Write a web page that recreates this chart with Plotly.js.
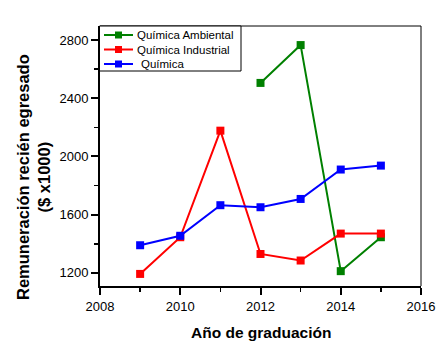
<!DOCTYPE html>
<html>
<head>
<meta charset="utf-8">
<script src="https://cdn.plot.ly/plotly-3.0.1.min.js"></script>
<style>html,body{margin:0;padding:0;background:#fff;}#chart{width:446px;height:357px;}</style>
</head>
<body>
<div id="chart"></div>
<script>
const yearsAmbiental = [2012, 2013, 2014, 2015];
const ambiental = [2505, 2765, 1212, 1445];
const years = [2009, 2010, 2011, 2012, 2013, 2014, 2015];
const industrial = [1193, 1445, 2177, 1330, 1285, 1470, 1470];
const quimica = [1390, 1455, 1665, 1651, 1708, 1910, 1937];
const seriesNames = ['Química Ambiental', 'Química Industrial', 'Química'];
const seriesColors = ['#008000', '#ff0000', '#0000ff'];

const mk = (x, y, i) => ({
  x: x, y: y, name: seriesNames[i], type: 'scatter', mode: 'lines+markers',
  line: {color: seriesColors[i], width: 2},
  marker: {symbol: 'square', size: 8, color: seriesColors[i]},
  showlegend: false
});

const data = [mk(yearsAmbiental, ambiental, 0), mk(years, industrial, 1), mk(years, quimica, 2)];

// plot area in pixels: left 100, right 421, top 26, bottom 286
const L = 100, R = 421, T = 26, B = 286;
const px = v => (v - L) / (R - L);
const py = v => (B - v) / (B - T);

const font = 'Liberation Sans, Arial, sans-serif';

// hand-built legend (box, symbols, labels)
const shapes = [
  {type: 'line', xref: 'paper', yref: 'paper', x0: 0, x1: 1, y0: 1, y1: 1, line: {color: '#000', width: 1}},
  {type: 'line', xref: 'paper', yref: 'paper', x0: 1, x1: 1, y0: 0, y1: 1, line: {color: '#000', width: 1}},
  {type: 'rect', xref: 'paper', yref: 'paper', layer: 'above', x0: px(99.5), x1: px(241), y0: py(71), y1: py(26),
    fillcolor: '#fff', line: {color: '#000', width: 1}}
];
const annotations = [
  {text: '<b>Año de graduación</b>', xref: 'paper', yref: 'paper', x: 0.5, y: py(332),
    xanchor: 'center', yanchor: 'middle', showarrow: false, font: {family: font, size: 15.5}},
  {text: '<b>Remuneración recién egresado<br>($ x1000)</b>', xref: 'paper', yref: 'paper',
    x: px(34), y: py(177), xanchor: 'center', yanchor: 'middle', textangle: -90, showarrow: false,
    font: {family: font, size: 16.5}}
];
const rowY = [35, 49.5, 64];
const textX = [135, 135, 139];
seriesNames.forEach((name, i) => {
  const yy = rowY[i];
  shapes.push({type: 'line', xref: 'paper', yref: 'paper', layer: 'above',
    x0: px(104), x1: px(133), y0: py(yy), y1: py(yy), line: {color: seriesColors[i], width: 2}});
  shapes.push({type: 'rect', xref: 'paper', yref: 'paper', layer: 'above',
    x0: px(115), x1: px(122), y0: py(yy + 3.5), y1: py(yy - 3.5),
    fillcolor: seriesColors[i], line: {width: 0}});
  annotations.push({text: name, xref: 'paper', yref: 'paper', x: px(textX[i]), y: py(yy),
    xanchor: 'left', yanchor: 'middle', showarrow: false, font: {family: font, size: 11.5, color: '#000'}});
});

const layout = {
  width: 446, height: 357,
  margin: {l: L, r: 446 - R, t: T, b: 357 - B},
  paper_bgcolor: '#fff', plot_bgcolor: '#fff',
  font: {family: font, size: 13, color: '#000'},
  showlegend: false,
  xaxis: {range: [2008, 2016], dtick: 2, tick0: 2008, showgrid: false, zeroline: false,
    showline: true, linecolor: '#000', linewidth: 2, ticks: 'outside', ticklen: 7, tickwidth: 2,
    tickcolor: '#000', tickfont: {family: font, size: 13},
    minor: {dtick: 1, ticks: 'outside', ticklen: 4, tickwidth: 1.5, tickcolor: '#000', showgrid: false}},
  yaxis: {range: [1110, 2896], dtick: 400, tick0: 1200, showgrid: false, zeroline: false,
    showline: true, linecolor: '#000', linewidth: 2, ticks: 'outside', ticklen: 7, tickwidth: 2,
    tickcolor: '#000', tickfont: {family: font, size: 13},
    minor: {dtick: 200, ticks: 'outside', ticklen: 4, tickwidth: 1.5, tickcolor: '#000', showgrid: false}},
  shapes: shapes,
  annotations: annotations
};

Plotly.newPlot('chart', data, layout, {displayModeBar: false, staticPlot: true});
</script>
</body>
</html>
